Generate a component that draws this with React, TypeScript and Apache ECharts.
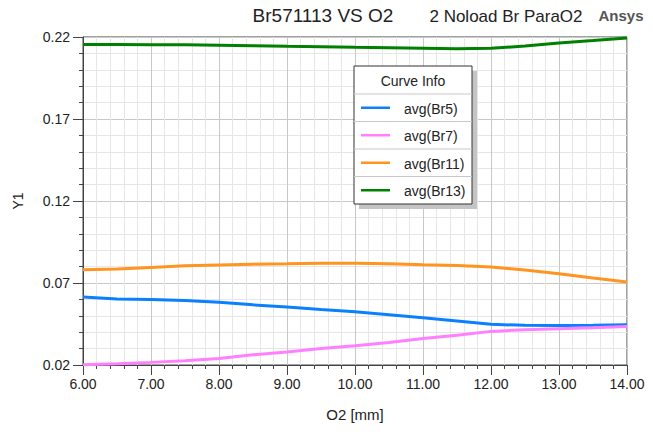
import React, { useEffect, useRef } from "react";
import * as echarts from "echarts";

const O2_MM = [6.0, 6.5, 7.0, 7.5, 8.0, 8.5, 9.0, 9.5, 10.0, 10.5, 11.0, 11.5, 12.0, 12.5, 13.0, 13.5, 14.0];
const BR5 = [0.0615, 0.0603, 0.0599, 0.0593, 0.0583, 0.0567, 0.0553, 0.0538, 0.0524, 0.0507, 0.0488, 0.0469, 0.0448, 0.0442, 0.0441, 0.0442, 0.0445];
const BR7 = [0.0202, 0.0208, 0.0216, 0.0226, 0.024, 0.0262, 0.0279, 0.03, 0.0317, 0.0337, 0.0361, 0.0382, 0.0405, 0.0415, 0.0421, 0.0427, 0.0435];
const BR11 = [0.0781, 0.0785, 0.0795, 0.0805, 0.081, 0.0815, 0.0817, 0.082, 0.0821, 0.0817, 0.0811, 0.0806, 0.0798, 0.0779, 0.0756, 0.073, 0.0706];
const BR13 = [0.2154, 0.2154, 0.2153, 0.2152, 0.215, 0.2147, 0.2143, 0.214, 0.2137, 0.2135, 0.2132, 0.2129, 0.2131, 0.2145, 0.2163, 0.2178, 0.2194];

const SERIES_NAMES = ["avg(Br5)", "avg(Br7)", "avg(Br11)", "avg(Br13)"];
const SERIES_COLORS = ["#0a80ff", "#ff80ff", "#ff9421", "#008000"];
const SERIES_DATA = [BR5, BR7, BR11, BR13];

const Y_MIN = 0.02;
const Y_MAX = 0.22;
const Y_STEP = 0.05;
const X_MIN = 6;
const X_MAX = 14;
const X_STEP = 1;

const TITLE_MAIN = "Br571113 VS O2";
const TITLE_SUB = "2 Noload Br ParaO2";
const BRAND = "Ansys";
const X_NAME = "O2 [mm]";
const Y_NAME = "Y1";
const LEGEND_TITLE = "Curve Info";

const FONT = "'Liberation Sans', Arial, sans-serif";

export default function App() {
  const ref = useRef<HTMLDivElement>(null);
  useEffect(() => {
    if (!ref.current) return;
    const chart = echarts.init(ref.current, undefined, { renderer: "svg" });

    const series = SERIES_DATA.map((arr, i) => ({
      type: "line",
      name: SERIES_NAMES[i],
      showSymbol: false,
      symbol: "none",
      lineStyle: { color: SERIES_COLORS[i], width: 3 },
      itemStyle: { color: SERIES_COLORS[i] },
      data: arr.map((v, j) => [O2_MM[j], v - Y_MIN]),
      z: 3,
    }));

    // legend box
    const lx = 354, ly = 66, lw = 118, headH = 28, rowH = 27.5;
    const lh = headH + rowH * SERIES_NAMES.length;
    const legendEls: any[] = [
      { type: "rect", shape: { x: lx + 5, y: ly + 5, width: lw, height: lh }, style: { fill: "#c4c4c4" }, z: 10 },
      { type: "rect", shape: { x: lx, y: ly, width: lw, height: lh }, style: { fill: "#ffffff", stroke: "#333", lineWidth: 1 }, z: 11 },
      { type: "text", x: lx + lw / 2, y: ly + headH / 2 + 1, style: { text: LEGEND_TITLE, font: `14px ${FONT}`, fill: "#222", align: "center", verticalAlign: "middle" }, z: 12 },
    ];
    SERIES_NAMES.forEach((name, i) => {
      const top = ly + headH + rowH * i;
      legendEls.push({ type: "line", shape: { x1: lx, y1: top, x2: lx + lw, y2: top }, style: { stroke: "#c8c8c8", lineWidth: 1 }, z: 12 });
      legendEls.push({ type: "line", shape: { x1: lx + 7, y1: top + rowH / 2, x2: lx + 36, y2: top + rowH / 2 }, style: { stroke: SERIES_COLORS[i], lineWidth: 2.5 }, z: 12 });
      legendEls.push({ type: "text", x: lx + 50, y: top + rowH / 2 + 1, style: { text: name, font: `14px ${FONT}`, fill: "#222", align: "left", verticalAlign: "middle" }, z: 12 });
    });

    chart.setOption({
      animation: false,
      backgroundColor: "#ffffff",
      grid: { left: 83, right: 26, top: 37, bottom: 67, show: true, borderColor: "#444", borderWidth: 1, backgroundColor: "transparent" },
      xAxis: {
        type: "value",
        min: X_MIN,
        max: X_MAX,
        interval: X_STEP,
        name: X_NAME,
        nameLocation: "middle",
        nameGap: 42,
        nameTextStyle: { fontFamily: FONT, fontSize: 15, color: "#222" },
        axisLine: { show: true, lineStyle: { color: "#444", width: 1 } },
        axisTick: { show: true, length: 10, lineStyle: { color: "#444" } },
        minorTick: { show: true, splitNumber: 5, length: 4, lineStyle: { color: "#444" } },
        splitLine: { show: true, lineStyle: { color: "#c8c8c8", width: 1 } },
        minorSplitLine: { show: true, lineStyle: { color: "#e6e6e6", width: 1 } },
        axisLabel: { fontFamily: FONT, fontSize: 14, color: "#222", margin: 12, formatter: (v: number) => v.toFixed(2) },
      },
      yAxis: {
        type: "value",
        min: 0,
        max: Y_MAX - Y_MIN,
        interval: Y_STEP,
        name: Y_NAME,
        nameLocation: "middle",
        nameGap: 58,
        nameRotate: 90,
        nameTextStyle: { fontFamily: FONT, fontSize: 14, color: "#222" },
        axisLine: { show: true, lineStyle: { color: "#444", width: 1 } },
        axisTick: { show: true, length: 10, lineStyle: { color: "#444" } },
        minorTick: { show: true, splitNumber: 5, length: 4, lineStyle: { color: "#444" } },
        splitLine: { show: true, lineStyle: { color: "#c8c8c8", width: 1 } },
        minorSplitLine: { show: true, lineStyle: { color: "#e6e6e6", width: 1 } },
        axisLabel: { fontFamily: FONT, fontSize: 14, color: "#222", margin: 13, formatter: (v: number) => (v + Y_MIN).toFixed(2) },
      },
      graphic: [
        { type: "text", x: 323, y: 15, style: { text: TITLE_MAIN, font: `19px ${FONT}`, fill: "#222", align: "center", verticalAlign: "middle" } },
        { type: "text", x: 506, y: 16, style: { text: TITLE_SUB, font: `17px ${FONT}`, fill: "#222", align: "center", verticalAlign: "middle" } },
        { type: "text", x: 621, y: 15, style: { text: BRAND, font: `bold 15px ${FONT}`, fill: "#555", align: "center", verticalAlign: "middle" } },
        ...legendEls,
      ],
      series,
    });
    return () => chart.dispose();
  }, []);
  return <div ref={ref} style={{ position: "absolute", left: 0, top: 0, width: 653, height: 432 }} />;
}
